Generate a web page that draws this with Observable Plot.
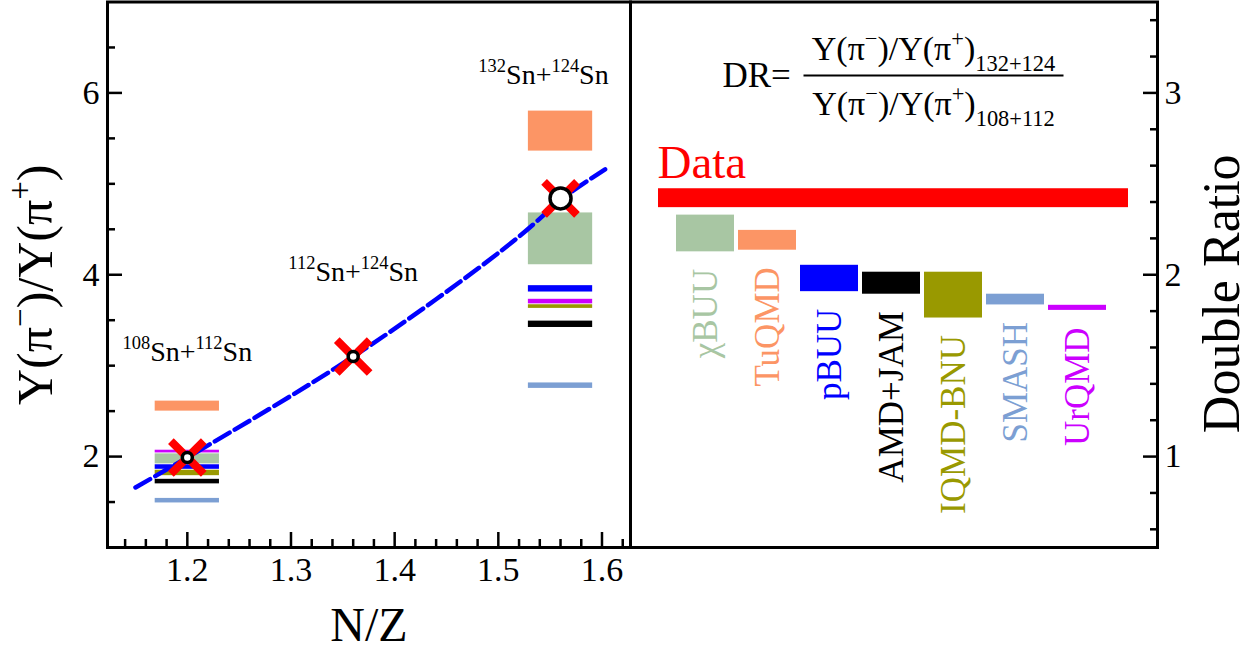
<!DOCTYPE html>
<html><head><meta charset="utf-8">
<script src="https://cdn.jsdelivr.net/npm/d3@7"></script>
<script src="https://cdn.jsdelivr.net/npm/@observablehq/plot@0.6"></script>
<style>
html,body{margin:0;padding:0;background:#fff;}
#wrap{position:relative;width:1256px;height:653px;overflow:hidden;}
#wrap svg{position:absolute;left:0;top:0;background:transparent;}
#wrap svg text, #wrap svg tspan{font-family:'Liberation Serif','Times New Roman',serif !important;}
</style></head><body><div id="wrap"></div>
<script>
// ---- data ----
const systems = ["108Sn+112Sn", "112Sn+124Sn", "132Sn+124Sn"];
const systemNZ = [1.2, 1.36, 1.56];
const measuredRatio = [1.99, 3.10, 4.84];
const systemLabels = ["^{108}Sn+^{112}Sn", "^{112}Sn+^{124}Sn", "^{132}Sn+^{124}Sn"];

const fitNZ = [1.15, 1.2, 1.28, 1.36, 1.44, 1.52, 1.56, 1.603];
const fitRatio = [1.66, 1.99, 2.53, 3.10, 3.73, 4.42, 4.82, 5.16];

const models = ["χBUU", "TuQMD", "pBUU", "AMD+JAM", "IQMD-BNU", "SMASH", "UrQMD"];
const modelColors = ["#a8c6a3", "#fc9565", "#0000ff", "#000000", "#999900", "#7c9fd3", "#cc00ff"];
const modelLow108 = [1.92, 2.50, 1.86, 1.70, 1.79, 1.49, 2.04];
const modelHigh108 = [2.03, 2.61, 1.91, 1.75, 1.85, 1.54, 2.07];
const modelLow132 = [4.11, 5.36, 3.81, 3.42, 3.63, 2.75, 3.68];
const modelHigh132 = [4.68, 5.80, 3.88, 3.49, 3.67, 2.81, 3.73];
const drLow = [2.126, 2.135, 1.907, 1.893, 1.762, 1.834, 1.804];
const drHigh = [2.328, 2.244, 2.052, 2.014, 2.014, 1.893, 1.832];
const dataDR = [2.369, 2.473];

const xTicks = [1.2, 1.3, 1.4, 1.5, 1.6];
const xMinorTicks = d3.range(57, 82).filter(i => i % 5 !== 0).map(i => i / 50);
const yTicks = [2, 4, 6];
const yMinorTicks = [1.5, 2.5, 3, 3.5, 4.5, 5, 5.5, 6.5];
const drTicks = [1, 2, 3];
const drMinorTicks = d3.range(3, 18).filter(i => i % 5 !== 0).map(i => i / 5);

// ---- tables ----
const points = systems.map((s, i) => ({system: s, nz: systemNZ[i], r: measuredRatio[i], label: systemLabels[i]}));
const fitRows = fitNZ.map((nz, i) => ({nz, r: fitRatio[i]}));
const modelRows = [];
models.forEach((m, i) => {
  modelRows.push({model: m, nz: systemNZ[0], lo: modelLow108[i], hi: modelHigh108[i], color: modelColors[i]});
  modelRows.push({model: m, nz: systemNZ[2], lo: modelLow132[i], hi: modelHigh132[i], color: modelColors[i]});
});
const drRows = models.map((m, i) => ({model: m, lo: drLow[i], hi: drHigh[i], color: modelColors[i]}));

const FONT = "'Liberation Serif', 'Times New Roman', serif";
const fmt = d => String(d);
const common = {
  width: 1256, height: 653, marginTop: 1.5, marginBottom: 106,
  style: {fontFamily: FONT, background: "transparent", color: "black"},
  color: {type: "identity"}
};
const T = {fontFamily: FONT, lineAnchor: "middle"};

const left = Plot.plot({
  ...common,
  marginLeft: 107, marginRight: 626,
  x: {domain: [1.123, 1.6275]},
  y: {domain: [1, 7]},
  marks: [
    Plot.rect(modelRows, {x1: d => d.nz - 0.031, x2: d => d.nz + 0.031, y1: "lo", y2: "hi", fill: "color"}),
    Plot.line(fitRows, {x: "nz", y: "r", stroke: "#0000ff", strokeWidth: 4.5, strokeDasharray: "17,6", curve: "natural"}),
    Plot.dot(points, {x: "nz", y: "r", symbol: "times", r: 15, stroke: "#ff0000", strokeWidth: 8}),
    Plot.dot(points, {filter: d => d.nz < 1.5, x: "nz", y: "r", r: 5, fill: "white", stroke: "black", strokeWidth: 3.5}),
    Plot.dot(points, {filter: d => d.nz > 1.5, x: "nz", y: "r", r: 10.5, fill: "white", stroke: "black", strokeWidth: 3.5}),
    Plot.text(points, {...T, filter: (d, i) => i === 0, x: "nz", text: "label", frameAnchor: "top", textAnchor: "middle", dy: 350, fontSize: 28}),
    Plot.text(points, {...T, filter: (d, i) => i === 1, x: "nz", text: "label", frameAnchor: "top", textAnchor: "middle", dy: 270, fontSize: 28}),
    Plot.text(points, {...T, filter: (d, i) => i === 2, x: "nz", text: "label", frameAnchor: "top", textAnchor: "middle", dx: -17, dy: 73, fontSize: 28}),
    Plot.axisX(xTicks, {tickSize: -15, strokeWidth: 2.5, fill: "none", label: null}),
    Plot.axisX(xMinorTicks, {tickSize: -8, strokeWidth: 2.5, fill: "none", label: null}),
    Plot.axisX(xTicks, {tickSize: 0, tickPadding: 9, fontSize: 34, fontFamily: FONT, tickFormat: fmt, label: null}),
    Plot.axisY(yTicks, {tickSize: -15, strokeWidth: 2.5, fill: "none", label: null}),
    Plot.axisY(yMinorTicks, {tickSize: -8, strokeWidth: 2.5, fill: "none", label: null}),
    Plot.axisY(yTicks, {tickSize: 0, tickPadding: 8, fontSize: 34, fontFamily: FONT, tickFormat: fmt, label: null}),
    Plot.text(["N/Z"], {...T, frameAnchor: "bottom", textAnchor: "middle", dy: 78, fontSize: 48}),
    Plot.text(["Y(π^{−})/Y(π^{+})"], {...T, frameAnchor: "left", textAnchor: "middle", rotate: -90, dx: -72, dy: 10, fontSize: 50}),
    Plot.frame({stroke: "black", strokeWidth: 3})
  ]
});

const right = Plot.plot({
  ...common,
  marginLeft: 630, marginRight: 99,
  x: {type: "band", domain: models, range: [675, 1106.7], paddingInner: 0.06, paddingOuter: 0, axis: null},
  y: {domain: [0.5, 3.5]},
  marks: [
    Plot.rect([dataDR], {y1: d => d[0], y2: d => d[1], insetLeft: 28, insetRight: 29, fill: "#ff0000"}),
    Plot.text(["Data"], {...T, frameAnchor: "top-left", textAnchor: "start", dx: 27, dy: 161, fontSize: 47, fill: "#ff0000"}),
    Plot.barY(drRows, {x: "model", y1: "lo", y2: "hi", fill: "color"}),
    Plot.text(drRows, {...T, x: "model", y: "lo", text: "model", rotate: -90, textAnchor: "end", dy: 17, fontSize: 35, fill: "color"}),
    Plot.text(["DR="], {...T, frameAnchor: "top-left", textAnchor: "start", dx: 92, dy: 74, fontSize: 35}),
    Plot.text(["Y(π^{−})/Y(π^{+})_{132+124}"], {...T, frameAnchor: "top-left", textAnchor: "middle", dx: 303, dy: 47, fontSize: 34}),
    Plot.text(["Y(π^{−})/Y(π^{+})_{108+112}"], {...T, frameAnchor: "top-left", textAnchor: "middle", dx: 303, dy: 102, fontSize: 34}),
    Plot.frame({fill: "black", stroke: "none", insetLeft: 173, insetRight: 94, insetTop: 72.5, insetBottom: 471}),
    Plot.axisY(drTicks, {anchor: "right", tickSize: -15, strokeWidth: 2.5, fill: "none", label: null}),
    Plot.axisY(drMinorTicks, {anchor: "right", tickSize: -8, strokeWidth: 2.5, fill: "none", label: null}),
    Plot.axisY(drTicks, {anchor: "right", tickSize: 0, tickPadding: 7, fontSize: 34, fontFamily: FONT, tickFormat: fmt, label: null}),
    Plot.text(["Double Ratio"], {...T, frameAnchor: "right", textAnchor: "middle", rotate: -90, dx: 65, dy: 19, fontSize: 52}),
    Plot.frame({stroke: "black", strokeWidth: 3})
  ]
});

const wrap = document.getElementById("wrap");
wrap.appendChild(left);
wrap.appendChild(right);

// superscript / subscript markup -> tspans
function rich(svg) {
  svg.querySelectorAll("text").forEach(t => {
    const s = t.textContent;
    if (!/[\^_]\{/.test(s)) return;
    while (t.firstChild) t.removeChild(t.firstChild);
    const re = /([\^_])\{([^}]*)\}|([^\^_]+)/g;
    let m, shift = 0;
    while ((m = re.exec(s))) {
      const ts = document.createElementNS("http://www.w3.org/2000/svg", "tspan");
      if (m[1]) {
        const sup = m[1] === "^";
        const target = sup ? -0.42 : 0.32;
        const scale = 0.66;
        ts.setAttribute("font-size", scale + "em");
        ts.setAttribute("dy", ((target - shift) / scale).toFixed(3) + "em");
        shift = target;
        ts.textContent = m[2];
      } else {
        if (shift) ts.setAttribute("dy", (-shift).toFixed(3) + "em");
        shift = 0;
        ts.textContent = m[3];
      }
      t.appendChild(ts);
    }
  });
}
rich(left);
rich(right);
</script>
</body></html>
